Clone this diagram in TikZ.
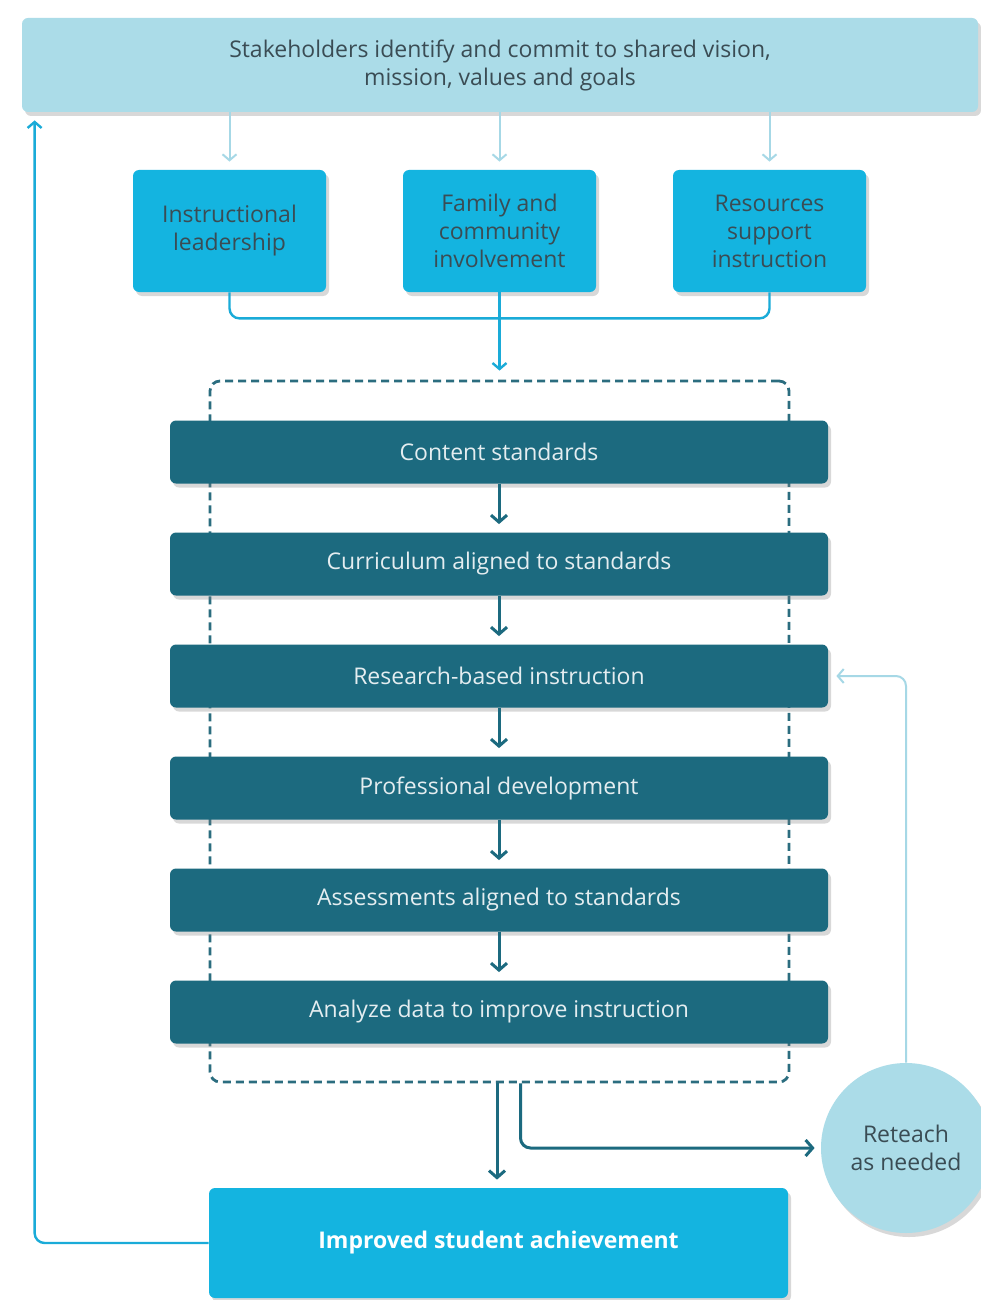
\documentclass[tikz,border=0pt]{standalone}
\usepackage{fontspec}
\setmainfont{Open Sans}
\usetikzlibrary{arrows.meta}
\usetikzlibrary{calc}
\usetikzlibrary{positioning}
\usetikzlibrary{shadows}
\definecolor{paleblue}{HTML}{ABDCE8}
\definecolor{brightcyan}{HTML}{14B4E0}
\definecolor{deepteal}{HTML}{1C6A7F}
\definecolor{linecyan}{HTML}{1AABD8}
\definecolor{lightline}{HTML}{A6D8E6}
\definecolor{greytext}{HTML}{3A4C54}
\tikzset{
  boxshadow/.style={drop shadow={opacity=0.3, shadow xshift=1.5pt, shadow yshift=-2pt}},
  visionbox/.style={fill=paleblue, rounded corners=3pt, boxshadow,
    minimum width=478pt, minimum height=47pt, align=center,
    text=greytext, font=\fontsize{11.5}{14}\selectfont},
  pillar/.style={fill=brightcyan, rounded corners=3pt, boxshadow,
    minimum width=96.5pt, minimum height=61pt, align=center,
    text=greytext, font=\fontsize{11.5}{14}\selectfont},
  stepbox/.style={fill=deepteal, rounded corners=3pt, boxshadow,
    minimum width=329pt, minimum height=31.5pt,
    text=white!88!deepteal, font=\fontsize{11.5}{14}\selectfont},
  loopframe/.style={draw=deepteal!85!gray, line width=1.4pt,
    dash pattern=on 4pt off 2.5pt, rounded corners=5pt,
    minimum width=289.5pt, minimum height=350.5pt},
  resultbox/.style={fill=brightcyan, rounded corners=3pt, boxshadow,
    minimum width=289.5pt, minimum height=55pt,
    text=white, font=\bfseries\fontsize{11.5}{14}\selectfont},
  retbubble/.style={circle, fill=paleblue, boxshadow, minimum size=85pt,
    align=center, text=greytext, font=\fontsize{11.5}{14}\selectfont},
  lightarrow/.style={-{Straight Barb[length=3pt,width=7pt]}, draw=lightline, line width=1pt},
  cyanline/.style={draw=linecyan, line width=1.2pt},
  cyanarrow/.style={cyanline, -{Straight Barb[length=3pt,width=7pt]}},
  darkarrow/.style={-{Straight Barb[length=3.5pt,width=8pt]}, draw=deepteal, line width=1.5pt}
}

\begin{document}
\begin{tikzpicture}[x=0.5pt, y=-0.5pt]
  \useasboundingbox[fill=white] (0,0) rectangle (980,1300);

  % top of the chain
  \node[visionbox] (vision) at (500,65)
    {Stakeholders identify and commit to shared vision,\\ mission, values and goals};

  \node[pillar] (lead)      at (229.5,231) {Instructional\\ leadership};
  \node[pillar] (family)    at (499.5,231) {Family and\\ community\\ involvement};
  \node[pillar] (resources) at (769.5,231) {Resources\\ support\\ instruction};

  \foreach \p in {lead,family,resources}
    \draw[lightarrow, shorten >=4pt] (vision.south -| \p) -- (\p.north);

  % the loop of steps
  \node[loopframe] (loop) at (499.5,731.5) {};

  \foreach \i/\t [count=\k] in {
      0/Content standards,
      1/Curriculum aligned to standards,
      2/Research-based instruction,
      3/Professional development,
      4/Assessments aligned to standards,
      5/Analyze data to improve instruction}
    \node[stepbox] (s\k) at (499,452+112*\i) {\t};

  \foreach \k [evaluate=\k as \n using int(\k+1)] in {1,...,5}
    \draw[darkarrow, shorten >=4pt] (s\k.south) -- (s\n.north);

  \draw[cyanline, rounded corners=5pt] (lead.south) -- ++(0,26) -| (resources.south);
  \draw[cyanarrow, shorten >=4.5pt] (family.south) -- (loop.north);

  % outcome and reteaching
  \node[resultbox] (achieve) at (498.5,1243) {Improved student achievement};
  \node[retbubble] (reteach) at (906,1148) {Reteach\\ as needed};

  \draw[darkarrow, shorten >=4pt] (loop.south -| 497,0) -- (achieve.north -| 497,0);
  \draw[darkarrow, rounded corners=5pt, shorten >=3pt]
    ($(loop.south)+(21,0)$) |- (reteach.west);
  \draw[lightarrow, rounded corners=5pt, shorten >=4pt]
    (reteach.north) |- (s3.east);
  \draw[cyanarrow, rounded corners=5pt, shorten >=4pt]
    (achieve.west) -| ($(vision.south west)+(13,0)$);
\end{tikzpicture}
\end{document}
